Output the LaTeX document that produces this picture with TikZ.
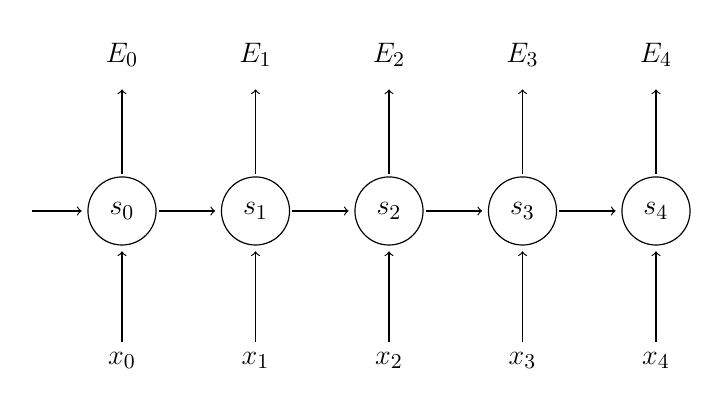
\documentclass[tikz,border=0pt]{standalone}
\usetikzlibrary{positioning}

\tikzset{
  state/.style={draw, circle, minimum size=1.02cm, inner sep=0pt, outer sep=1.2pt},
  lbl/.style={inner sep=2pt}
}

\begin{document}
\begin{tikzpicture}[font=\fontsize{12.5pt}{15pt}\selectfont, ->, line width=0.5pt, shorten >=1.5pt]
\useasboundingbox (-1.828,-3.071) rectangle (8.959,3.161);

\coordinate (in) at (-1.35,0);

\foreach \i in {0,...,4}{
  \node[state] (s\i) at ({2*\i},0) {$s_{\i}$};
  \node[lbl] (e\i) at ({2*\i},2.34) {$E_{\i}$};
  \node[lbl] (x\i) at ({2*\i},-2.24) {$x_{\i}$};
  \draw[shorten >=7.5pt] (s\i) -- (e\i);
  \draw[shorten <=2pt] (x\i) -- (s\i);
}

\draw (in) -- (s0);
\foreach \i [evaluate=\i as \j using int(\i+1)] in {0,...,3}
  \draw (s\i) -- (s\j);

\end{tikzpicture}
\end{document}
